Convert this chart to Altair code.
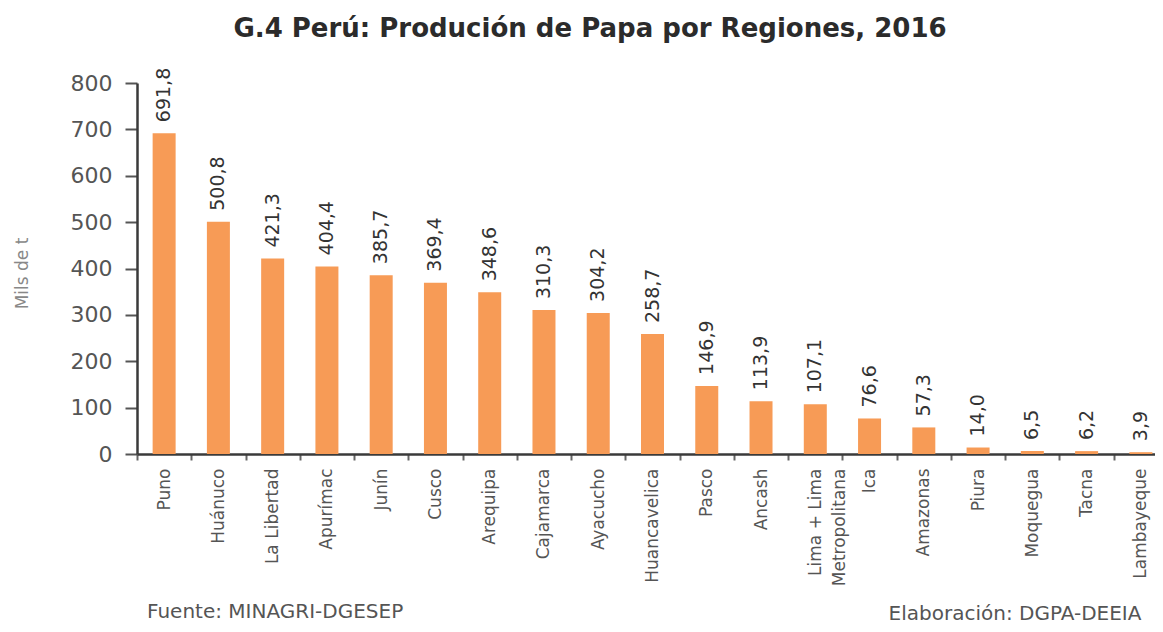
import altair as alt
import pandas as pd

# ---- data ----
regions = ["Puno", "Huánuco", "La Libertad", "Apurímac", "Junín", "Cusco",
           "Arequipa", "Cajamarca", "Ayacucho", "Huancavelica", "Pasco",
           "Ancash", "Lima + Lima Metropolitana", "Ica", "Amazonas", "Piura",
           "Moquegua", "Tacna", "Lambayeque"]
production = [691.8, 500.8, 421.3, 404.4, 385.7, 369.4, 348.6, 310.3, 304.2,
              258.7, 146.9, 113.9, 107.1, 76.6, 57.3, 14.0, 6.5, 6.2, 3.9]
y_ticks = [0, 100, 200, 300, 400, 500, 600, 700, 800]
title_text = "G.4 Perú: Produción de Papa por Regiones, 2016"
y_title = "Mils de t"
source_note = ["Fuente: MINAGRI-DGESEP"]
credit_note = ["Elaboración: DGPA-DEEIA"]

df = pd.DataFrame({"region": regions, "value": production})

FONT = "DejaVu Sans"
BAR = "#F79B56"

x_enc = alt.X(
    "region:N", sort=regions,
    scale=alt.Scale(range=[0, 1031], paddingInner=0, paddingOuter=0),
    axis=alt.Axis(
        title=None, labelAngle=270, labelAlign="right", labelBaseline="middle",
        labelFont=FONT, labelFontSize=17, labelColor="#555", labelPadding=8,
        labelOverlap=False, labelLineHeight=24, labelLimit=300,
        labelExpr="datum.label == 'Lima + Lima Metropolitana' ? ['Lima + Lima', 'Metropolitana'] : datum.label",
        tickBand="extent", tickSize=6, tickWidth=2, tickColor="#666",
        domainColor="#3a3a3a", domainWidth=2.5,
    ),
)
y_enc = alt.Y(
    "value:Q",
    scale=alt.Scale(domain=[0, 800], nice=False),
    axis=alt.Axis(
        values=y_ticks, grid=False, title=y_title,
        domainColor="#3a3a3a", domainWidth=2.5,
        tickColor="#555", tickWidth=2, tickSize=12,
        labelFont=FONT, labelFontSize=22, labelColor="#555", labelPadding=13,
        titleFont=FONT, titleFontSize=17, titleFontWeight="normal",
        titleColor="#888", titleAngle=270, titleAlign="center",
        titleBaseline="middle", titleX=-115, titleY=190,
    ),
)

base = alt.Chart(df)
bars = base.mark_bar(size=23, color=BAR).encode(x=x_enc, y=y_enc)
labels = base.transform_calculate(
    lbl="replace(format(datum.value, '.1f'), '.', ',')"
).mark_text(
    angle=270, align="left", baseline="middle", dx=11,
    font=FONT, fontSize=19, color="#333"
).encode(x=alt.X("region:N", sort=regions), y="value:Q", text="lbl:N")

fuente = alt.Chart(pd.DataFrame({"t": source_note})).mark_text(
    align="left", baseline="alphabetic", font=FONT, fontSize=20, color="#555"
).encode(x=alt.value(10), y=alt.value(535), text="t:N")

elab = alt.Chart(pd.DataFrame({"t": credit_note})).mark_text(
    align="center", baseline="alphabetic", font=FONT, fontSize=20, color="#555"
).encode(x=alt.value(878), y=alt.value(537), text="t:N")

chart = alt.layer(bars, labels, fuente, elab).properties(
    width=1018, height=371,
    title=alt.TitleParams(
        text=title_text, font=FONT, fontSize=26, fontWeight="bold",
        color="#2b2b2b", anchor="middle", frame="group", dx=-56,
        baseline="bottom", offset=0,
    ),
    padding={"left": 129, "top": 75, "right": 0, "bottom": 170},
    autosize=alt.AutoSizeParams(type="none"),
).configure_view(stroke=None)

chart.save("out.html", embed_options={"renderer": "svg", "actions": False})
